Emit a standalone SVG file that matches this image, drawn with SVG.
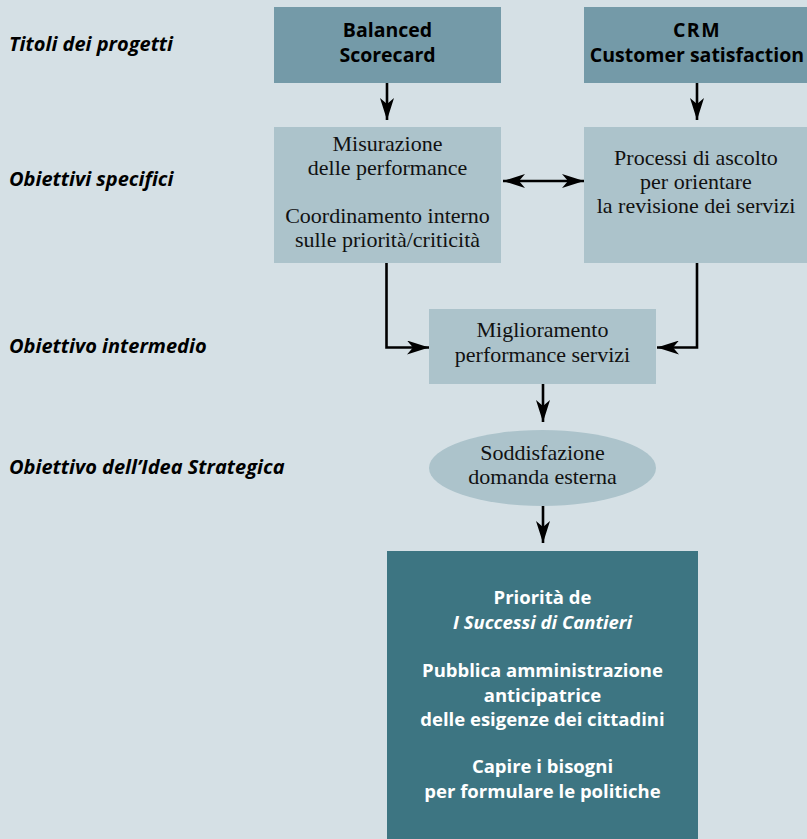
<svg xmlns="http://www.w3.org/2000/svg" width="807" height="839" viewBox="0 0 807 839">
<defs>
<marker id="ah" markerUnits="userSpaceOnUse" viewBox="0 0 22 14" markerWidth="22" markerHeight="14" refX="22" refY="7" orient="auto-start-reverse">
<path d="M0,0 L22,7 L0,14 L6,7 z" fill="#000"/>
</marker>
<style>
.lab{font-family:"Open Sans","DejaVu Sans",sans-serif;font-weight:bold;font-style:italic;font-size:20px;fill:#000}
.title{font-family:"Open Sans","DejaVu Sans",sans-serif;font-weight:bold;font-size:19.5px;fill:#000;text-anchor:middle}
.ser{font-family:"Liberation Serif","Times New Roman",serif;font-size:22px;fill:#111;text-anchor:middle}
.wh{font-family:"Open Sans","DejaVu Sans",sans-serif;font-weight:bold;font-size:18.5px;fill:#fff;text-anchor:middle}
.top{fill:#749aa8}
.mid{fill:#acc3cb}
.con{fill:none;stroke:#000;stroke-width:2.6;marker-end:url(#ah)}
</style>
</defs>
<rect width="807" height="839" fill="#d5e0e5"/>
<g id="labels">
<text class="lab" x="9" y="51">Titoli dei progetti</text>
<text class="lab" x="9" y="186">Obiettivi specifici</text>
<text class="lab" x="9" y="353">Obiettivo intermedio</text>
<text class="lab" x="9" y="474">Obiettivo dell’Idea Strategica</text>
</g>
<g id="bsc">
<rect class="top" x="274" y="7" width="227" height="76"/>
<text class="title" x="387.5" y="37">Balanced</text>
<text class="title" x="387.5" y="62">Scorecard</text>
</g>
<g id="crm">
<rect class="top" x="584" y="7" width="223" height="76"/>
<text class="title" x="697" y="37" letter-spacing="1.5">CRM</text>
<text class="title" x="697" y="62">Customer satisfaction</text>
</g>
<g id="misurazione">
<rect class="mid" x="274" y="127" width="227" height="136"/>
<text class="ser" x="387.5" y="151">Misurazione</text>
<text class="ser" x="387.5" y="175">delle performance</text>
<text class="ser" x="387.5" y="223">Coordinamento interno</text>
<text class="ser" x="387.5" y="247">sulle priorità/criticità</text>
</g>
<g id="processi">
<rect class="mid" x="584" y="127" width="223" height="136"/>
<text class="ser" x="696" y="165">Processi di ascolto</text>
<text class="ser" x="696" y="189">per orientare</text>
<text class="ser" x="696" y="213">la revisione dei servizi</text>
</g>
<g id="miglioramento">
<rect class="mid" x="429" y="309" width="227" height="75"/>
<text class="ser" x="542.5" y="337">Miglioramento</text>
<text class="ser" x="542.5" y="362">performance servizi</text>
</g>
<g id="soddisfazione">
<ellipse class="mid" cx="542.5" cy="468" rx="113.5" ry="38"/>
<text class="ser" x="542.5" y="460">Soddisfazione</text>
<text class="ser" x="542.5" y="484">domanda esterna</text>
</g>
<g id="priorita">
<rect x="387" y="551" width="311" height="288" fill="#3d7582"/>
<text class="wh" x="542.5" y="604">Priorità de</text>
<text class="wh" x="542.5" y="629" font-style="italic">I Successi di Cantieri</text>
<text class="wh" x="542.5" y="677">Pubblica amministrazione</text>
<text class="wh" x="542.5" y="702">anticipatrice</text>
<text class="wh" x="542.5" y="726">delle esigenze dei cittadini</text>
<text class="wh" x="542.5" y="773">Capire i bisogni</text>
<text class="wh" x="542.5" y="798">per formulare le politiche</text>
</g>
<g id="connectors">
<path class="con" d="M387,83 V120"/>
<path class="con" d="M697,83 V120"/>
<path class="con" d="M503,181 H584" marker-start="url(#ah)"/>
<path class="con" d="M386.5,263 V347.5 H429"/>
<path class="con" d="M697,263 V347.5 H657"/>
<path class="con" d="M543,384 V422"/>
<path class="con" d="M543,506 V543"/>
</g>
</svg>
